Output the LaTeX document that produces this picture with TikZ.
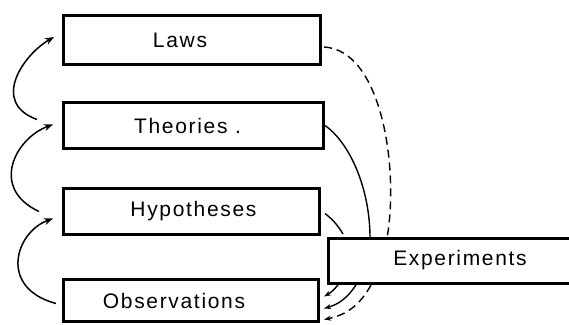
\documentclass[tikz,border=0pt]{standalone}
\usepackage{fontspec}
\newfontfamily\boxfont{Liberation Sans}[LetterSpace=8]
\usepackage{tikz}
\usetikzlibrary{arrows.meta,positioning}
\tikzset{
  box/.style    = {draw, line width=3pt, anchor=north west, inner sep=0pt},
  lbl/.style    = {font=\boxfont\fontsize{21}{24}\selectfont, inner sep=0pt},
  edge/.style   = {line width=3pt, line join=miter},
  climb/.style  = {-{Stealth[length=9pt,width=7pt]}, line width=1.5pt},
  back/.style   = {-{Stealth[length=7pt,width=5pt]}, line width=1.4pt},
  dashline/.style = {dash pattern=on 8pt off 5pt},
}
\begin{document}
\begin{tikzpicture}[x=1pt,y=1pt]
  \useasboundingbox (0,0) rectangle (569,324);
  % the four levels
  \node[box, minimum width=257pt, minimum height=49pt,
        label={[lbl, xshift=-12pt]center:Laws}] (laws) at (62,310) {};
  \node[box, minimum width=260pt, minimum height=46pt,
        label={[lbl, xshift=-6pt]center:Theories .}] (theo) at (62,223) {};
  \node[box, minimum width=256pt, minimum height=46pt,
        label={[lbl, xshift=2pt]center:Hypotheses}] (hyp) at (62,137) {};
  \node[box, minimum width=255pt, minimum height=42pt,
        label={[lbl, xshift=-17pt]center:Observations}] (obs) at (62,46) {};
  % experiments, open on the right
  \node[box, draw=none, minimum width=241pt, minimum height=42pt,
        label={[lbl, xshift=10pt]center:Experiments}] (exp) at (328,86) {};
  \draw[edge] (exp.north east) -- (exp.north west) -- (exp.south west) -- (exp.south east);
  % climbing on the left
  \draw[climb] ([shift={(-25,6)}]theo.west) .. controls +(160:50) and +(210:35)
    .. ([shift={(-8,3)}]laws.west);
  \draw[climb] ([shift={(-23,0)}]hyp.west) .. controls +(155:55) and +(200:40)
    .. ([shift={(-9,1)}]theo.west);
  \draw[climb] ([shift={(-6,-3)}]obs.west) .. controls +(165:60) and +(200:40)
    .. ([shift={(-9,-7)}]hyp.west);
  % down into experiments
  \draw[line width=1.4pt, dashline] ([shift={(2,-7)}]laws.east) .. controls +(-3:58)
    and +(80:70) .. ([xshift=-63pt]exp.north);
  \draw[line width=1.4pt] (theo.east) .. controls +(-35:30) and +(90:50)
    .. ([xshift=-80pt]exp.north);
  \draw[line width=1.4pt] ([shift={(4,-2)}]hyp.east) to[bend left=10]
    ([shift={(15,4)}]exp.north west);
  % back to observations
  \draw[back] ([shift={(10,-2)}]exp.south west) to[bend left=10] ([shift={(4,4)}]obs.east);
  \draw[back] ([shift={(28,-2)}]exp.south west) to[bend left=20] ([shift={(4,-8)}]obs.east);
  \draw[back, dashline] ([shift={(43,-2)}]exp.south west) to[bend left=25]
    ([shift={(4,-19)}]obs.east);
\end{tikzpicture}
\end{document}
